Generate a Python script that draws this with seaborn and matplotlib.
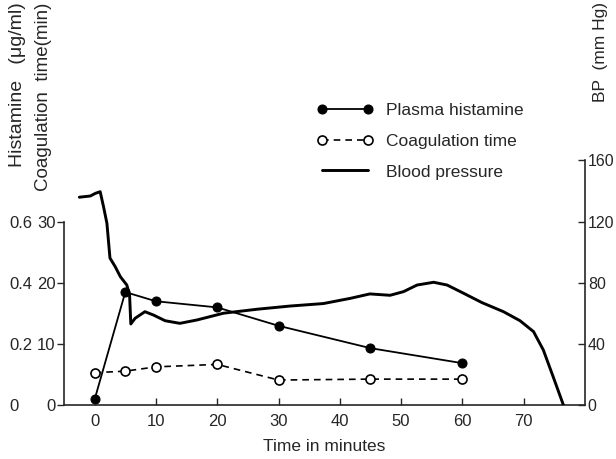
import numpy as np
import pandas as pd
import matplotlib
matplotlib.use("Agg")
import matplotlib.pyplot as plt
import seaborn as sns

# ---- data ----
sample_time = [0, 5, 10, 20, 30, 45, 60]
histamine = [0.02, 0.37, 0.34, 0.32, 0.26, 0.187, 0.138]        # ug/ml
coag_time = [5.35, 5.6, 6.3, 6.7, 4.15, 4.3, 4.3]                # min

bp_time = [-2.5, -0.7, 0.1, 0.9, 1.45, 2.0, 2.5, 3.35, 4.2, 5.25, 5.7, 5.9,
           6.6, 8.2, 9.6, 11.5, 13.9, 16.7, 21.0, 26.5, 31.9, 37.3, 41.7,
           44.9, 48.2, 50.4, 52.6, 55.3, 57.5, 60.2, 63.2, 66.7, 69.4, 71.6,
           73.2, 74.8, 76.5]
bp = [135.9, 136.7, 138.4, 139.5, 129.7, 118.9, 96.2, 90.6, 84.0, 78.6, 72.0,
      53.2, 56.9, 61.2, 59.0, 55.3, 53.6, 55.8, 60.2, 62.8, 64.9, 66.5, 69.9,
      72.8, 71.9, 74.3, 78.6, 80.4, 78.6, 73.2, 67.1, 61.2, 55.3, 48.2,
      36.2, 18.8, 0.0]

x_ticks = [0, 10, 20, 30, 40, 50, 60, 70]
coag_ticks = [0, 10, 20, 30]
hist_ticks = [0, 0.2, 0.4, 0.6]
hist_tick_labels = ["0", "0.2", "0.4", "0.6"]
bp_ticks = [0, 40, 80, 120, 160]

sns.set_style("ticks")
plt.rcParams["font.family"] = ["Liberation Sans", "DejaVu Sans"]
plt.rcParams["axes.linewidth"] = 1.2

FS = 12.5
TFS = 12

fig = plt.figure(figsize=(6.16, 4.59), dpi=100)
ax = fig.add_axes([0.1039, 0.1166, 0.8458, 0.5342])

# histamine drawn on the coagulation-time scale (0.6 ug/ml <-> 30 min)
hist_df = pd.DataFrame({"t": sample_time, "h": np.array(histamine) * 50})
coag_df = pd.DataFrame({"t": sample_time, "c": coag_time})
bp_df = pd.DataFrame({"t": bp_time, "bp": bp})

sns.lineplot(data=hist_df, x="t", y="h", ax=ax, color="black", lw=1.3,
             marker="o", markersize=6.5, markerfacecolor="black",
             markeredgecolor="black", label="Plasma histamine", legend=False)
sns.lineplot(data=coag_df, x="t", y="c", ax=ax, color="black", lw=1.2,
             linestyle=(0, (4, 3)), marker="o", markersize=6.5,
             markerfacecolor="white", markeredgecolor="black",
             markeredgewidth=1.2, label="Coagulation time", legend=False)

ax2 = ax.twinx()
sns.lineplot(data=bp_df, x="t", y="bp", ax=ax2, color="black", lw=2.1,
             label="Blood pressure", legend=False, sort=False)

ax.set_xlim(-5, 80)
ax.set_ylim(0, 40)
ax2.set_ylim(0, 160)

ax.set_xticks(x_ticks)
ax.set_yticks(coag_ticks)
ax2.set_yticks(bp_ticks)

for s in ["top", "right"]:
    ax.spines[s].set_visible(False)
for s in ["top", "left", "bottom"]:
    ax2.spines[s].set_visible(False)
ax.spines["left"].set_bounds(0, 30)

ax.tick_params(axis="x", direction="in", length=5, width=1.0, labelsize=TFS, pad=6)
ax.tick_params(axis="y", direction="out", length=5, width=1.0, labelsize=TFS, pad=1)
ax2.tick_params(axis="y", direction="in", length=5, width=1.0, labelsize=11.5, pad=2)

sec = ax.secondary_yaxis("left", functions=(lambda y: y / 50, lambda y: y * 50))
sec.set_yticks(hist_ticks)
sec.set_yticklabels(hist_tick_labels)
sec.spines["left"].set_visible(False)
sec.tick_params(length=0, pad=39, labelsize=TFS)
for t in sec.get_yticklabels():
    t.set_horizontalalignment("left")

ax.set_xlabel("Time in minutes", fontsize=FS, labelpad=7)
ax.set_ylabel("")
ax2.set_ylabel("")

fig.text(0.029, 0.995, "Histamine   (μg/ml)", rotation=90, fontsize=14,
         ha="center", va="top")
fig.text(0.070, 0.995, "Coagulation  time(min)", rotation=90, fontsize=13.5,
         ha="center", va="top")
fig.text(0.975, 0.995, "BP  (mm Hg)", rotation=90, fontsize=FS,
         ha="center", va="top")

handles = ax.get_lines()[:2] + ax2.get_lines()[:1]
labels = ["Plasma histamine", "Coagulation time", "Blood pressure"]
fig.legend(handles, labels, loc="upper left", bbox_to_anchor=(0.489, 0.81),
           frameon=False, numpoints=2, handlelength=3.24, handletextpad=0.75,
           labelspacing=0.9, fontsize=FS)

fig.savefig("out.png", dpi=100)
